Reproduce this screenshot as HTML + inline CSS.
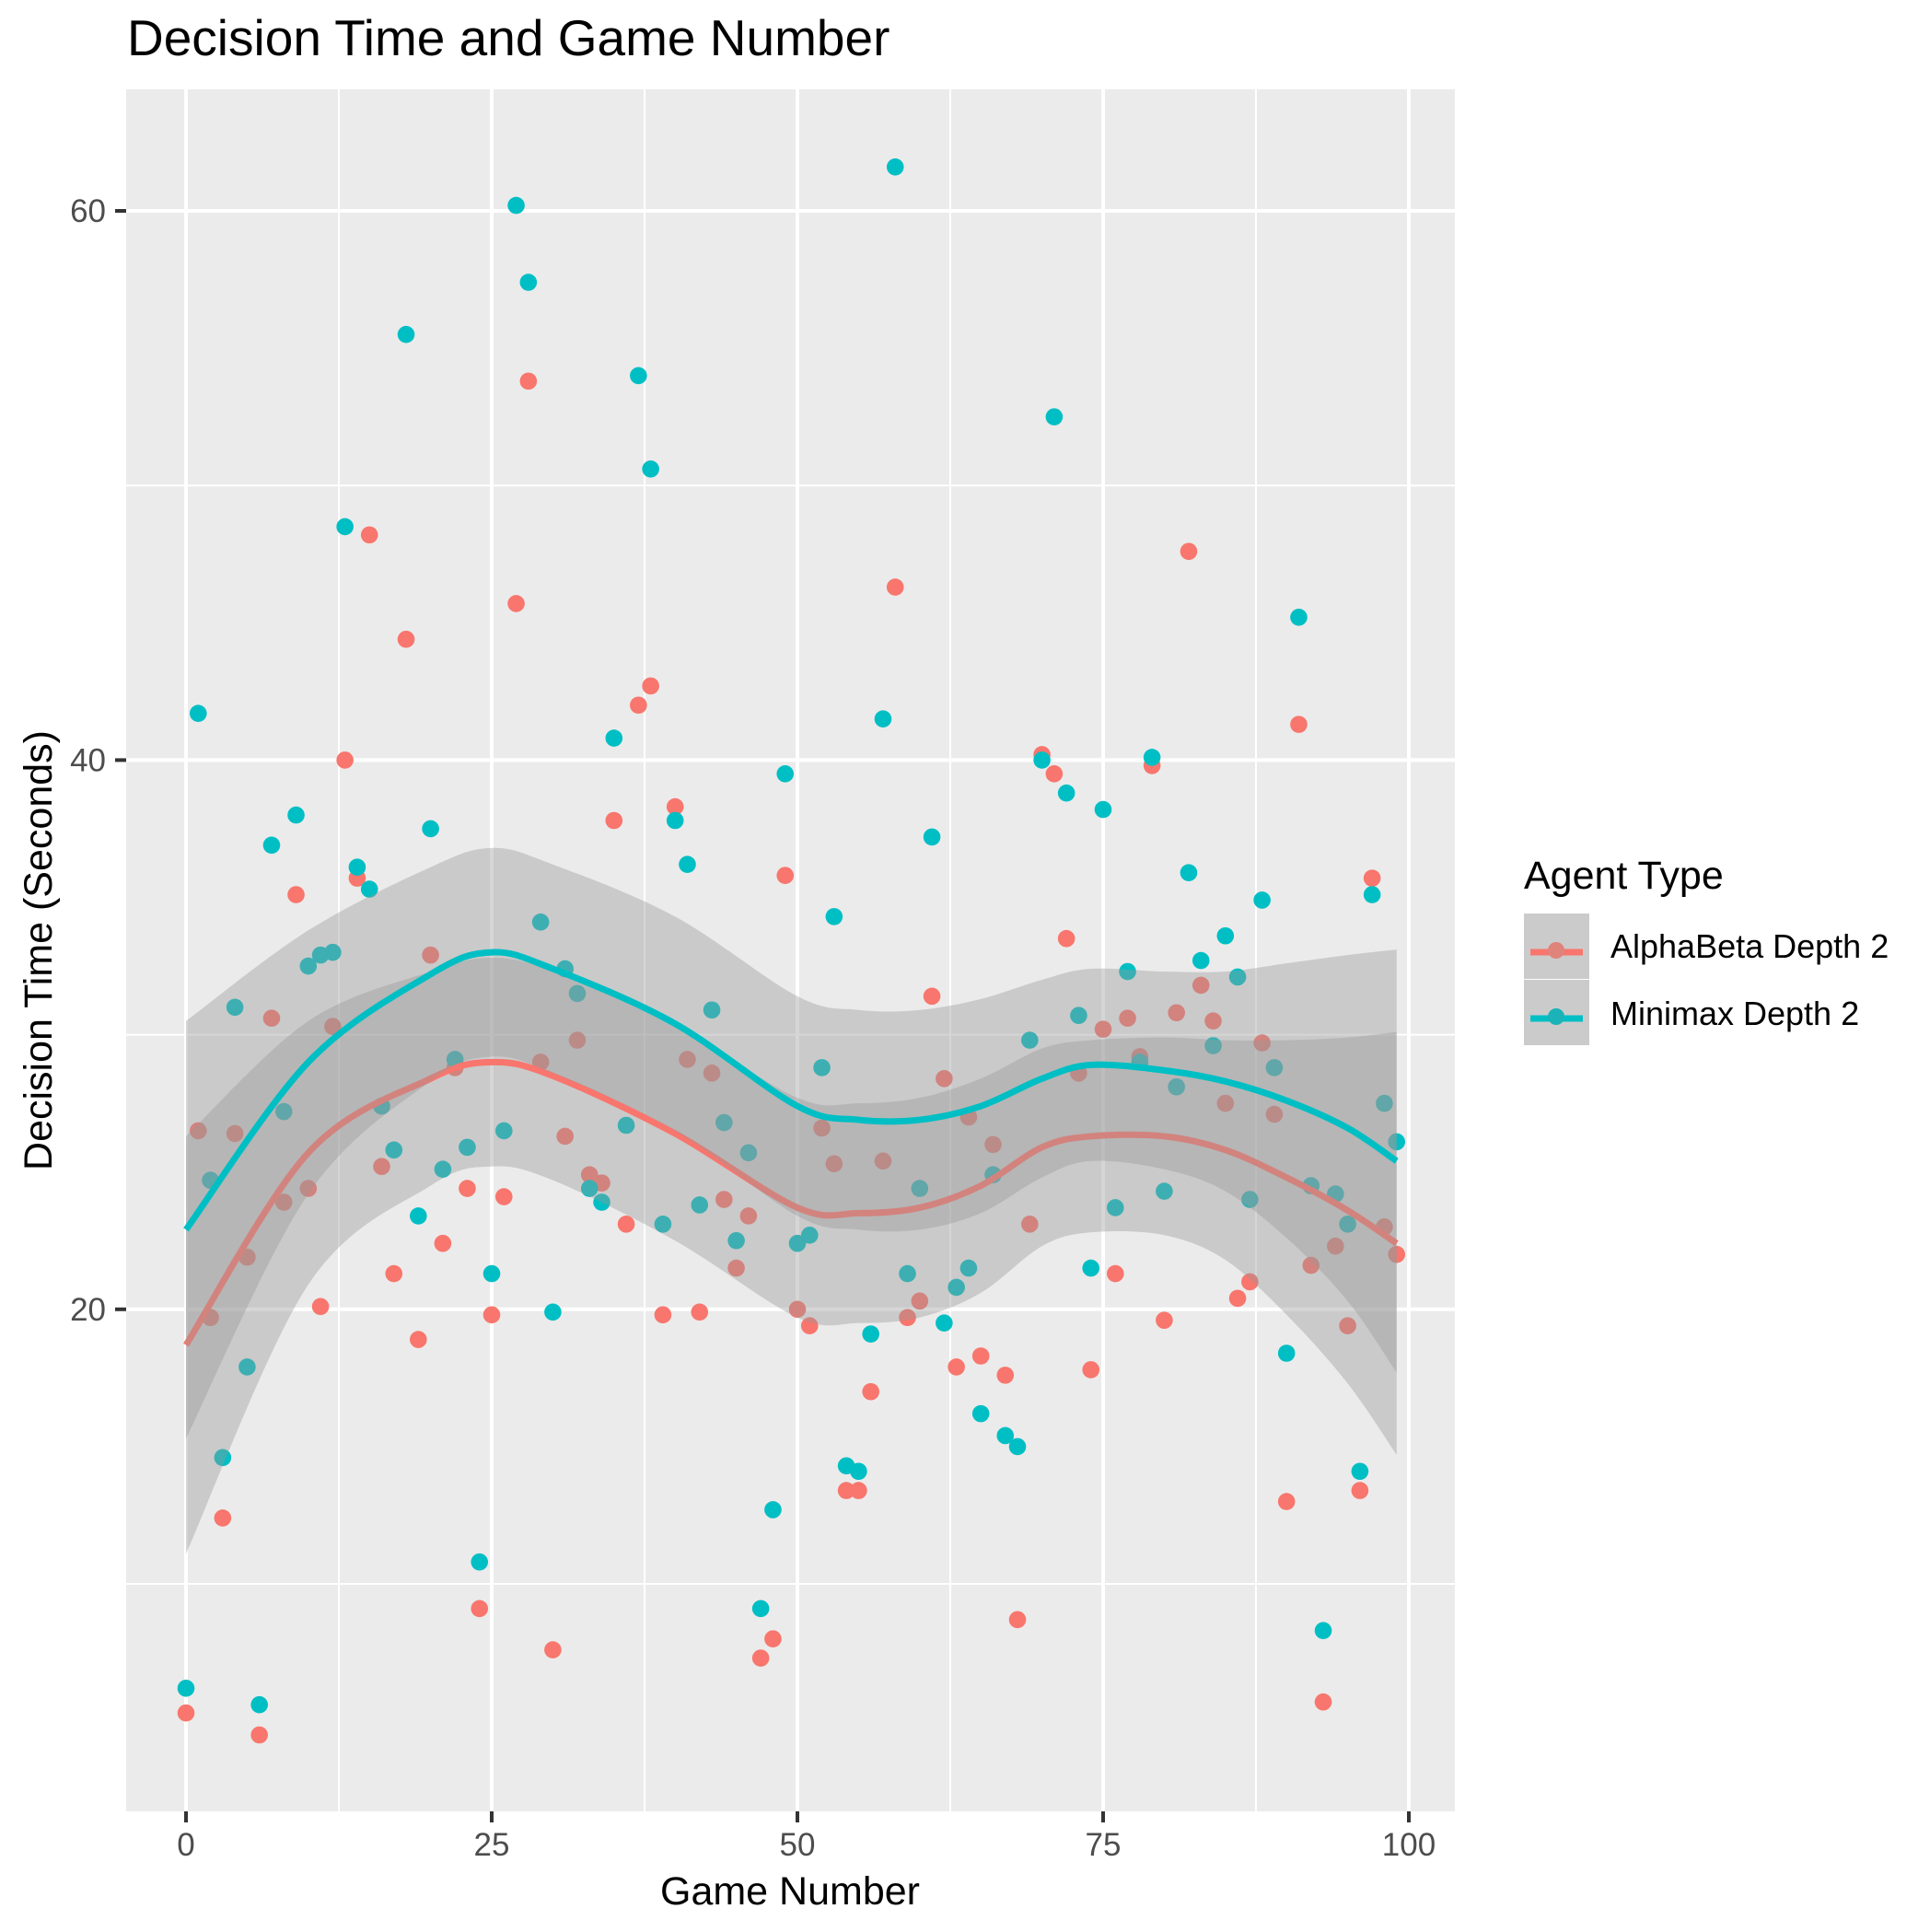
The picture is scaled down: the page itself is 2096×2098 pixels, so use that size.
<!DOCTYPE html>
<html><head><meta charset="utf-8">
<style>
html,body{margin:0;padding:0;background:#fff;}
svg{display:block;font-family:"Liberation Sans",Arial,sans-serif;}
</style></head>
<body>
<svg id="chart" width="2096" height="2098" viewBox="0 0 2096 2098" xmlns="http://www.w3.org/2000/svg">
<rect x="137" y="97" width="1443" height="1870" fill="#EBEBEB"/>
<g id="grid"></g>
<g id="pts"></g>
<g id="smooth"></g>
<g id="axes"></g>
<text x="138" y="60" font-size="55" fill="#000">Decision Time and Game Number</text>
<text x="858" y="2068" font-size="43" text-anchor="middle" fill="#000">Game Number</text>
<text transform="translate(56,1032) rotate(-90)" font-size="43" text-anchor="middle" fill="#000">Decision Time (Seconds)</text>
<g>
<text x="1655" y="965" font-size="43" fill="#000">Agent Type</text>
<rect x="1655" y="992" width="71" height="71" fill="#CBCBCB"/>
<line x1="1662" y1="1034" x2="1719" y2="1034" stroke="#F8766D" stroke-width="7"/>
<circle cx="1690" cy="1032" r="9" fill="#E0837B"/>
<text x="1749" y="1040" font-size="36" fill="#000">AlphaBeta Depth 2</text>
<rect x="1655" y="1064" width="71" height="71" fill="#CBCBCB"/>
<line x1="1662" y1="1106" x2="1719" y2="1106" stroke="#00BFC4" stroke-width="7"/>
<circle cx="1690" cy="1104" r="9" fill="#1BB3B7"/>
<text x="1749" y="1113" font-size="36" fill="#000">Minimax Depth 2</text>
</g>
</svg>
<script>
const games = Array.from({length:100},(_,i)=>i);
const alphaBetaTimes = [5.3,26.5,19.7,12.4,26.4,21.9,4.5,30.6,23.9,35.1,24.4,20.1,30.3,40.0,35.7,48.2,25.2,21.3,44.4,18.9,32.9,22.4,28.8,24.4,9.1,19.8,24.1,45.7,53.8,29.0,7.6,26.3,29.8,24.9,24.6,37.8,23.1,42.0,42.7,19.8,38.3,29.1,19.9,28.6,24.0,21.5,23.4,7.3,8.0,35.8,20.0,19.4,26.6,25.3,13.4,13.4,17.0,25.4,46.3,19.7,20.3,31.4,28.4,17.9,27.0,18.3,26.0,17.6,8.7,23.1,40.2,39.5,33.5,28.6,17.8,30.2,21.3,30.6,29.2,39.8,19.6,30.8,47.6,31.8,30.5,27.5,20.4,21.0,29.7,27.1,13.0,41.3,21.6,5.7,22.3,19.4,13.4,35.7,23.0,22.0];
const minimaxTimes = [6.2,41.7,24.7,14.6,31.0,17.9,5.6,36.9,27.2,38.0,32.5,32.9,33.0,48.5,36.1,35.3,27.4,25.8,55.5,23.4,37.5,25.1,29.1,25.9,10.8,21.3,26.5,60.2,57.4,34.1,19.9,32.4,31.5,24.4,23.9,40.8,26.7,54.0,50.6,23.1,37.8,36.2,23.8,30.9,26.8,22.5,25.7,9.1,12.7,39.5,22.4,22.7,28.8,34.3,14.3,14.1,19.1,41.5,61.6,21.3,24.4,37.2,19.5,20.8,21.5,16.2,24.9,15.4,15.0,29.8,40.0,52.5,38.8,30.7,21.5,38.2,23.7,32.3,29.0,40.1,24.3,28.1,35.9,32.7,29.6,33.6,32.1,24.0,34.9,28.8,18.4,45.2,24.5,8.3,24.2,23.1,14.1,35.1,27.5,26.1];
const smoothX = [0,10,20,25,30,40,50,55,60,65,70,74,80,85,90,95,99];
const alphaBetaFit = [18.7,25.7,28.4,29.0,28.5,26.4,23.7,23.5,23.7,24.5,25.9,26.3,26.3,25.8,24.8,23.6,22.4];
const minimaxFit = [22.9,29.0,32.2,33.0,32.4,30.4,27.4,26.9,26.9,27.4,28.4,28.9,28.7,28.3,27.6,26.6,25.4];
const bandHalf = [7.6,4.8,3.9,3.8,3.8,3.9,4.0,4.0,4.0,3.9,3.6,3.5,3.6,4.0,5.0,6.3,7.7];
const xTicks = [0,25,50,75,100];
const yTicks = [20,40,60];
const xMinor = [12.5,37.5,62.5,87.5];
const yMinor = [10,30,50];

const NS='http://www.w3.org/2000/svg';
const X0=137,X1=1580,Y0=97,Y1=1967;
function xs(v){return 202+13.28*v;}
function ys(v){return 229+(60-v)*29.82;}
function mk(tag,attrs,parent){const e=document.createElementNS(NS,tag);for(const k in attrs)e.setAttribute(k,attrs[k]);parent.appendChild(e);return e;}
const grid=document.getElementById('grid'),pts=document.getElementById('pts'),sm=document.getElementById('smooth'),axes=document.getElementById('axes');

xMinor.forEach(v=>{const l=mk('line',{x1:xs(v),x2:xs(v),y1:Y0,y2:Y1,stroke:'#fff','stroke-width':2},grid);

});
yMinor.forEach(v=>{const l=mk('line',{x1:X0,x2:X1,y1:ys(v),y2:ys(v),stroke:'#fff','stroke-width':2},grid);

});
xTicks.forEach(v=>{const l=mk('line',{x1:xs(v),x2:xs(v),y1:Y0,y2:Y1,stroke:'#fff','stroke-width':4},grid);


const t=mk('line',{x1:xs(v),x2:xs(v),y1:Y1,y2:Y1+12,stroke:'#333','stroke-width':4},axes);


const tx=mk('text',{x:xs(v),y:2015,'font-size':35,'text-anchor':'middle',fill:'#4D4D4D'},axes);tx.textContent=v;

});
yTicks.forEach(v=>{const l=mk('line',{x1:X0,x2:X1,y1:ys(v),y2:ys(v),stroke:'#fff','stroke-width':4},grid);


const t=mk('line',{x1:125,x2:X0,y1:ys(v),y2:ys(v),stroke:'#333','stroke-width':4},axes);


const tx=mk('text',{x:115,y:ys(v)+12,'font-size':35,'text-anchor':'end',fill:'#4D4D4D'},axes);tx.textContent=v;

});

function drawPts(arr,col,name){games.forEach((g,i)=>{const c=mk('circle',{cx:xs(g),cy:ys(arr[i]),r:9.3,fill:col},pts);

});}
drawPts(alphaBetaTimes,'#F8766D','alphabeta-point');
drawPts(minimaxTimes,'#00BFC4','minimax-point');

function crPath(P,start){let d=start?('M'+P[0][0]+','+P[0][1]):('L'+P[0][0]+','+P[0][1]);
for(let i=0;i<P.length-1;i++){const p0=P[Math.max(0,i-1)],p1=P[i],p2=P[i+1],p3=P[Math.min(P.length-1,i+2)];
const c1=[p1[0]+(p2[0]-p0[0])/6,p1[1]+(p2[1]-p0[1])/6],c2=[p2[0]-(p3[0]-p1[0])/6,p2[1]-(p3[1]-p1[1])/6];
d+=' C'+c1[0]+','+c1[1]+' '+c2[0]+','+c2[1]+' '+p2[0]+','+p2[1];}return d;}
function band(fit,name){const up=smoothX.map((x,i)=>[xs(x),ys(fit[i]+bandHalf[i])]);
const lo=smoothX.map((x,i)=>[xs(x),ys(fit[i]-bandHalf[i])]).reverse();
const p=mk('path',{d:crPath(up,true)+' '+crPath(lo,false)+' Z',fill:'#999999','fill-opacity':0.4},sm);

}
function line(fit,col,name){const P=smoothX.map((x,i)=>[xs(x),ys(fit[i])]);
const p=mk('path',{d:crPath(P,true),fill:'none',stroke:col,'stroke-width':7},sm);

}
band(alphaBetaFit,'alphabeta-confidence-band');
line(alphaBetaFit,'#F8766D','alphabeta-smooth-line');
band(minimaxFit,'minimax-confidence-band');
line(minimaxFit,'#00BFC4','minimax-smooth-line');
</script>
</body></html>
